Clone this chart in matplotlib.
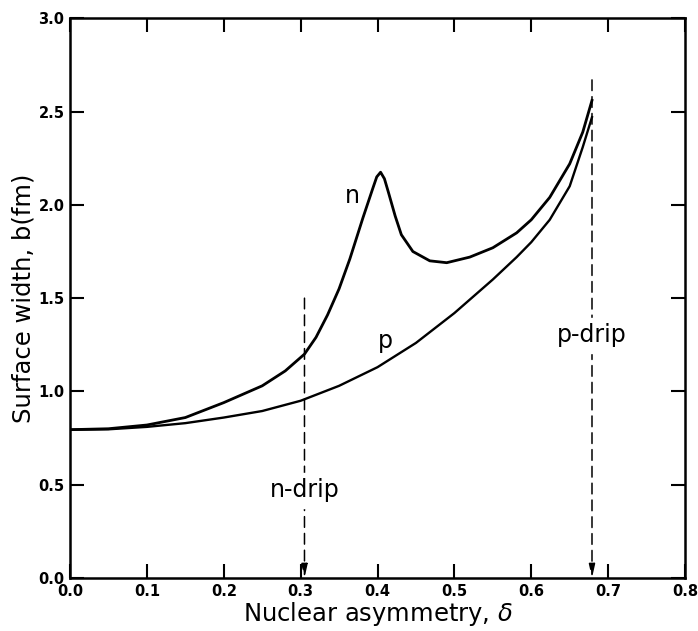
import matplotlib
matplotlib.use('Agg')
import matplotlib.pyplot as plt

# values
n_delta = [0.0, 0.05, 0.1, 0.15, 0.2, 0.25, 0.28, 0.305, 0.32, 0.335, 0.35, 0.364,
           0.381, 0.394, 0.399, 0.404, 0.409, 0.414, 0.423, 0.431, 0.446,
           0.468, 0.49, 0.52, 0.55, 0.581, 0.6, 0.624, 0.65, 0.667, 0.679]
n_b = [0.795, 0.80, 0.82, 0.86, 0.94, 1.03, 1.11, 1.20, 1.29, 1.41, 1.55, 1.71,
       1.93, 2.09, 2.15, 2.175, 2.14, 2.07, 1.94, 1.84, 1.75,
       1.70, 1.69, 1.72, 1.77, 1.85, 1.92, 2.04, 2.22, 2.39, 2.56]

p_delta = [0.0, 0.05, 0.1, 0.15, 0.2, 0.25, 0.3, 0.35, 0.4, 0.45, 0.5, 0.55,
           0.581, 0.6, 0.624, 0.65, 0.667, 0.679]
p_b = [0.795, 0.797, 0.81, 0.83, 0.86, 0.895, 0.95, 1.03, 1.13, 1.26, 1.42, 1.60,
       1.72, 1.80, 1.92, 2.10, 2.31, 2.47]

drip_delta = [0.305, 0.679]
drip_top = [1.50, 2.67]
drip_names = ['n-drip', 'p-drip']
drip_label_b = [0.47, 1.30]

fig = plt.figure(figsize=(6.98, 6.31), dpi=100)
ax = fig.add_axes([0.1003, 0.084, 0.8811, 0.887])

ax.plot(n_delta, n_b, color='black', lw=2.0, solid_joinstyle='round')
ax.plot(p_delta, p_b, color='black', lw=1.7, solid_joinstyle='round')

for d, top, name, lb in zip(drip_delta, drip_top, drip_names, drip_label_b):
    ax.annotate('', xy=(d, 0.0), xytext=(d, top),
                arrowprops=dict(arrowstyle='-|>,head_length=0.8,head_width=0.18',
                                color='black', lw=1.1, linestyle=(0, (7, 4)),
                                shrinkA=0, shrinkB=0))
    ax.text(d, lb, name, ha='center', va='center', fontsize=17,
            backgroundcolor='white')

ax.text(0.367, 2.05, 'n', ha='center', va='center', fontsize=17)
ax.text(0.41, 1.27, 'p', ha='center', va='center', fontsize=17)

ax.set_xlim(0, 0.8)
ax.set_ylim(0, 3.0)
ax.set_xticks([0.0, 0.1, 0.2, 0.3, 0.4, 0.5, 0.6, 0.7, 0.8])
ax.set_yticks([0.0, 0.5, 1.0, 1.5, 2.0, 2.5, 3.0])
ax.xaxis.set_major_formatter(matplotlib.ticker.FormatStrFormatter('%.1f'))
ax.yaxis.set_major_formatter(matplotlib.ticker.FormatStrFormatter('%.1f'))
ax.tick_params(direction='in', length=10, width=1.5, top=True, right=True,
               labelsize=10.5, pad=4)
for lab in ax.get_xticklabels() + ax.get_yticklabels():
    lab.set_fontweight('bold')
for s in ax.spines.values():
    s.set_linewidth(1.8)

ax.set_xlabel('Nuclear asymmetry, $\\delta$', fontsize=17.5, labelpad=1)
ax.set_ylabel('Surface width, b(fm)', fontsize=17.5, labelpad=2)

fig.savefig('out.png', dpi=100)
